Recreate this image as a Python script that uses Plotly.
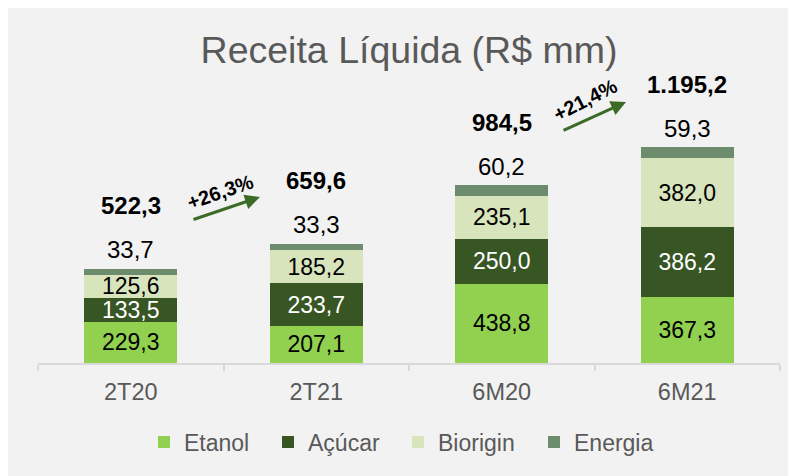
import plotly.graph_objects as go

categories = ["2T20", "2T21", "6M20", "6M21"]
etanol = [229.3, 207.1, 438.8, 367.3]
acucar = [133.5, 233.7, 250.0, 386.2]
biorigin = [125.6, 185.2, 235.1, 382.0]
energia = [33.7, 33.3, 60.2, 59.3]
totals = [522.3, 659.6, 984.5, 1195.2]
growth_labels = ["+26,3%", "+21,4%"]


def br(v):
    s = f"{v:,.1f}"
    return s.replace(",", "X").replace(".", ",").replace("X", ".")


FONT = "Arial, Liberation Sans, sans-serif"
GRAY = "#595959"

series = [
    ("Etanol", etanol, "#92d050", "#000000", 79),
    ("Açúcar", acucar, "#375623", "#ffffff", 85),
    ("Biorigin", biorigin, "#d8e4bc", "#000000", 91),
    ("Energia", energia, "#6d8b6d", "#000000", 94),
]

fig = go.Figure()
for name, vals, color, tcolor, lw in series:
    show_text = name != "Energia"
    fig.add_trace(go.Bar(
        name=name,
        x=categories,
        y=vals,
        marker=dict(color=color, line=dict(width=0)),
        text=[br(v) for v in vals] if show_text else None,
        textposition="inside" if show_text else "none",
        insidetextanchor="middle",
        constraintext="none",
        textfont=dict(family=FONT, size=23, color=tcolor),
        legendwidth=lw,
        hoverinfo="skip",
    ))

annotations = []
for c, e, t in zip(categories, energia, totals):
    annotations.append(dict(x=c, y=t, text=br(e), showarrow=False, yshift=19,
                            font=dict(family=FONT, size=24, color="#000000")))
    annotations.append(dict(x=c, y=t, text="<b>" + br(t) + "</b>", showarrow=False, yshift=63,
                            font=dict(family=FONT, size=24, color="#000000")))

L, AX = 30, 355  # plot left edge and axis line in px
PW, PH = 742, 303


def px(x):
    return (x - L) / PW


def py(y):
    return (AX - y) / PH


# growth arrows (decorative): tip, tail offset, label centre, angle
arrow_specs = [
    (px(252), py(189), -68, 23, px(212), py(184), -19),
    (px(618), py(94), -64, 29, px(577), py(92), -27),
]
for (tx, ty, ax, ay, lx, ly, ang), lab in zip(arrow_specs, growth_labels):
    annotations.append(dict(x=tx, y=ty, xref="paper", yref="paper", ax=ax, ay=ay,
                            text="", showarrow=True, arrowhead=2, arrowsize=1,
                            arrowwidth=3, arrowcolor="#3c6b28", standoff=0))
    annotations.append(dict(x=lx, y=ly, xref="paper", yref="paper", text="<b>" + lab + "</b>",
                            showarrow=False, textangle=ang, xanchor="center", yanchor="middle",
                            font=dict(family=FONT, size=20, color="#000000")))

fig.update_layout(
    width=796, height=476,
    margin=dict(l=L, r=796 - L - PW, t=AX - PH, b=476 - AX),
    barmode="stack",
    bargap=0.5,
    paper_bgcolor="#f2f2f2",
    plot_bgcolor="rgba(0,0,0,0)",
    title=dict(text="Receita Líquida (R$ mm)", x=0.5, xref="paper", xanchor="center",
               y=1 - 42 / 476, yanchor="middle",
               font=dict(family=FONT, size=37.5, color=GRAY)),
    xaxis=dict(showline=True, linecolor="#d9d9d9", linewidth=2, ticks="outside",
               tickson="boundaries", ticklen=6, tickwidth=2, tickcolor="#d9d9d9",
               ticklabelstandoff=7,
               tickfont=dict(family=FONT, size=23.5, color=GRAY), showgrid=False),
    yaxis=dict(visible=False, range=[0, 1678.6]),
    legend=dict(orientation="h", x=px(136), xanchor="left",
                y=py(434), yanchor="middle", font=dict(family=FONT, size=23, color=GRAY),
                bgcolor="rgba(0,0,0,0)", traceorder="normal"),
    annotations=annotations,
    showlegend=True,
)

fig.write_html("out.html")
